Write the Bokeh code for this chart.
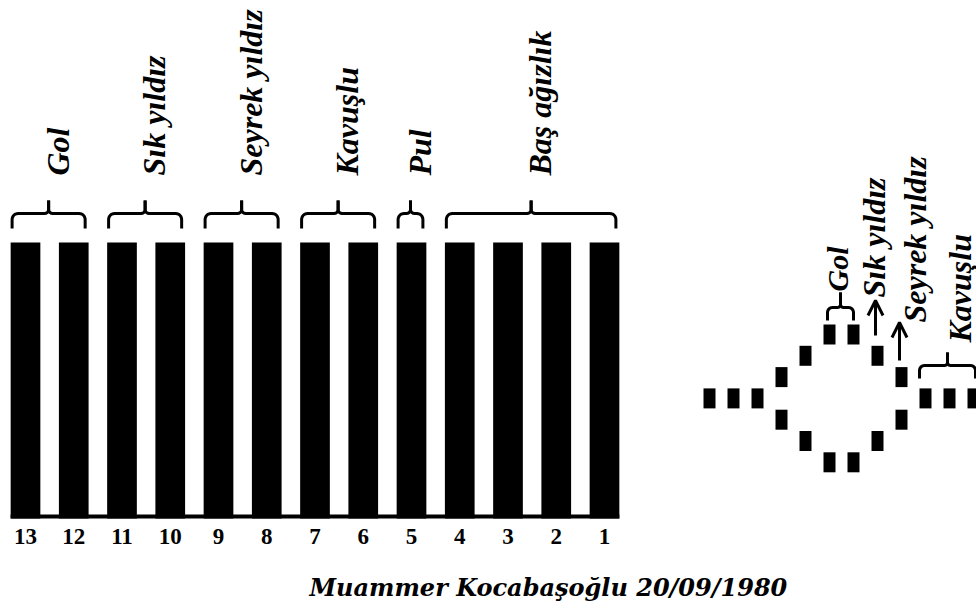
import numpy as np
from bokeh.plotting import figure
from bokeh.models import Range1d, Arrow, OpenHead
from bokeh.core.properties import value
from bokeh.embed import file_html
from bokeh.resources import INLINE

# ---------------- data ----------------
bar_labels = ["13", "12", "11", "10", "9", "8", "7", "6", "5", "4", "3", "2", "1"]
bar_values = [1, 1, 1, 1, 1, 1, 1, 1, 1, 1, 1, 1, 1]

group_names = ["Gol", "Sık yıldız", "Seyrek yıldız", "Kavuşlu", "Pul", "Baş ağızlık"]
group_first = ["13", "11", "9", "7", "5", "4"]
group_last = ["12", "10", "8", "6", "5", "1"]

# diamond diagram: grid column / row of each small block
diagram_cols = [0, 1, 2, 3, 3, 4, 4, 5, 5, 6, 6, 7, 7, 8, 8, 9, 10, 11]
diagram_rows = [3, 3, 3, 2, 4, 1, 5, 0, 6, 0, 6, 1, 5, 2, 4, 3, 3, 3]
diagram_labels = ["Gol", "Sık yıldız", "Seyrek yıldız", "Kavuşlu"]

footer_text = "Muammer Kocabaşoğlu 20/09/1980"

# ---------------- layout helpers (page pixel -> data units) ----------------
X0, PITCH = 25.0, 48.25          # page x of bar 0 centre, bar pitch
BASE_Y, TOP_Y = 514.0, 242.0     # page y of value 0 and value 1
W, H = 976, 610


def px(X):
    return (X - X0) / PITCH


def py(Y):
    return (BASE_Y - Y) / (BASE_Y - TOP_Y)


def page_x(i):
    return X0 + PITCH * i


p = figure(width=W, height=H, output_backend="svg", toolbar_location=None,
           x_range=Range1d(px(0), px(W)), y_range=Range1d(py(H), py(0)),
           min_border=0)
p.axis.visible = False
p.grid.visible = False
p.outline_line_color = None
p.background_fill_color = "white"
p.border_fill_color = "white"

# ---------------- bars ----------------
idx = list(range(len(bar_labels)))
bw = 29.7 / PITCH
base_bottom = py(518)
p.vbar(x=idx, top=bar_values, bottom=base_bottom, width=bw,
       fill_color="black", line_color=None)
p.quad(left=[idx[0] - bw / 2], right=[idx[-1] + bw / 2],
       bottom=[base_bottom], top=[0.0], fill_color="black", line_color=None)

p.text(x=idx, y=[py(536)] * len(idx), text=bar_labels,
       text_align="center", text_baseline="alphabetic",
       text_font=value("Liberation Serif"), text_font_style="bold",
       text_font_size="23px", text_color="black")


# ---------------- braces ----------------
def brace(L, R, yh, yend, ytop, r=6.0, f=4.0):
    M = (L + R) / 2.0
    t = np.linspace(np.pi, 1.5 * np.pi, 8)
    cx = L + r + r * np.cos(t)
    cy = yh + r + r * np.sin(t)
    t2 = np.linspace(np.pi / 2, 0, 6)
    jx = M - f + f * np.cos(t2)
    jy = yh - f + f * np.sin(t2)
    lx = [L] + list(cx) + list(jx) + [M]
    ly = [yend] + list(cy) + list(jy) + [ytop]
    rx = [2 * M - v for v in lx]
    xs = [[px(v) for v in lx], [px(v) for v in rx]]
    ys = [[py(v) for v in ly], [py(v) for v in ly]]
    return xs, ys, M


label_font = value("Liberation Serif")
all_xs, all_ys = [], []
for name, a, b in zip(group_names, group_first, group_last):
    i1, i2 = bar_labels.index(a), bar_labels.index(b)
    L = page_x(i1) - 13.4
    R = page_x(i2) + 11.4
    xs, ys, M = brace(L, R, 213, 228, 200)
    all_xs += xs
    all_ys += ys
    p.text(x=[px(M + 9)], y=[py(175)], text=[name], angle=np.pi / 2,
           text_align="left", text_baseline="alphabetic",
           text_font=label_font, text_font_style="bold italic",
           text_font_size="32px", text_color="black")

# ---------------- diamond diagram ----------------
def cell_cx(c):
    return 709 + 24.0 * c


def cell_top(r):
    return 324 + 21.3 * r


p.rect(x=[px(cell_cx(c)) for c in diagram_cols],
       y=[py(cell_top(r) + 10) for r in diagram_rows],
       width=12 / PITCH, height=20 / (BASE_Y - TOP_Y),
       fill_color="black", line_color=None)

# Gol brace over columns 5-6
xs, ys, M = brace(cell_cx(5) - 2, cell_cx(6), 307, 320, 292, r=5, f=3)
all_xs += xs
all_ys += ys
# Kavuşlu brace over columns 9-11
xs, ys, M2 = brace(cell_cx(9) - 6, cell_cx(11) + 2, 365, 378, 352, r=5, f=3)
all_xs += xs
all_ys += ys

p.multi_line(xs=all_xs, ys=all_ys, line_color="black", line_width=3,
             line_join="round")

# arrows for Sık yıldız (col 7) and Seyrek yıldız (col 8)
for c, ystart, yend in [(7, 335, 300), (8, 360, 322)]:
    xa = px(cell_cx(c) - 2)
    p.add_layout(Arrow(end=OpenHead(size=15, line_width=3, line_color="black"),
                       x_start=xa, y_start=py(ystart), x_end=xa, y_end=py(yend),
                       line_width=3, line_color="black"))

small_x = [837, 873, 914, 959]
small_y = [291, 297, 322, 342]
small_sz = ["30px", "32px", "32px", "32px"]
for name, xx, yy, sz in zip(diagram_labels, small_x, small_y, small_sz):
    p.text(x=[px(xx)], y=[py(yy)], text=[name], angle=np.pi / 2,
           text_align="left", text_baseline="alphabetic",
           text_font=label_font, text_font_style="bold italic",
           text_font_size=sz, text_color="black")

# ---------------- footer ----------------
p.text(x=[px(309)], y=[py(587)], text=[footer_text],
       text_align="left", text_baseline="alphabetic",
       text_font=value("DejaVu Serif"), text_font_style="bold italic",
       text_font_size="24px", text_color="black")

open("out.html", "w").write(file_html(p, INLINE))
